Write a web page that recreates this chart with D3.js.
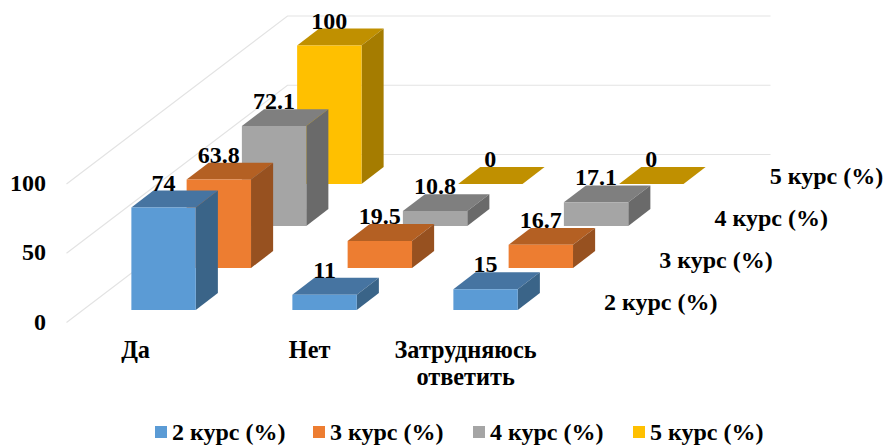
<!DOCTYPE html>
<html><head><meta charset="utf-8">
<script src="https://cdn.jsdelivr.net/npm/d3@7"></script>
<style>
html,body{margin:0;padding:0;background:#fff}
svg{display:block}
text{font-family:"Liberation Serif","Times New Roman",serif;font-weight:bold;fill:#000}
</style></head><body>
<svg id="c" width="884" height="447"></svg>
<script>
const categories = ["Да", "Нет", "Затрудняюсь ответить"];
const seriesNames = ["2 курс (%)", "3 курс (%)", "4 курс (%)", "5 курс (%)"];
const course2 = [74, 11, 15];
const course3 = [63.8, 19.5, 16.7];
const course4 = [72.1, 10.8, 17.1];
const course5 = [100, 0, 0];
const yTicks = [0, 50, 100];
const frontColors = ["#5B9BD5", "#ED7D31", "#A5A5A5", "#FFC000"];
const topColors = ["#4674A1", "#B46023", "#7F7F7F", "#C09000"];
const sideColors = ["#3A6488", "#975120", "#6A6A6A", "#A57C00"];

const seriesValues = [course2, course3, course4, course5];
const svg = d3.select("#c");

// oblique projection: floor origin, depth runs up and to the right
const originX = 66.5, originY = 322.5;
const depthX = d3.scaleLinear().domain([0, 4]).range([0, 221]);
const depthY = d3.scaleLinear().domain([0, 4]).range([0, -168]);
const x = d3.scaleBand().domain(categories).range([0, 483]).paddingInner(0.6).paddingOuter(0.3);
const y = d3.scaleLinear().domain([0, 100]).range([0, 138.5]);
const barDepth = 0.4, barStart = 0.3;

const px = (cx, d) => originX + cx + depthX(d);
const py = (h, d) => originY - y(h) + depthY(d);

// walls
const grid = svg.append("g").attr("fill", "none").attr("stroke", "#e3e3e3").attr("stroke-width", 1.2);
yTicks.forEach(t => {
  grid.append("polyline").attr("points", [
    [px(0, 0), py(t, 0)], [px(0, 4), py(t, 4)], [px(483, 4), py(t, 4)]
  ].join(" "));
});

// y axis labels
svg.append("g").selectAll("text").data(yTicks).join("text")
  .attr("x", 46).attr("y", d => py(d, 0)).attr("dy", "0.3em")
  .attr("text-anchor", "end").attr("font-size", 24).text(d => d);

// bars, back row first
const poly = (pts, fill) => svg.append("polygon").attr("points", pts.join(" ")).attr("fill", fill);
const labels = [];
d3.range(3, -1, -1).forEach(s => {
  const z0 = s + barStart, z1 = s + barStart + barDepth;
  categories.forEach((c, i) => {
    const v = seriesValues[s][i];
    const l = x(c), r = l + x.bandwidth();
    poly([[px(l, z0), py(v, z0)], [px(r, z0), py(v, z0)], [px(r, z1), py(v, z1)], [px(l, z1), py(v, z1)]], topColors[s]);
    if (v > 0) {
      poly([[px(r, z0), py(0, z0)], [px(r, z1), py(0, z1)], [px(r, z1), py(v, z1)], [px(r, z0), py(v, z0)]], sideColors[s]);
      poly([[px(l, z0), py(0, z0)], [px(r, z0), py(0, z0)], [px(r, z0), py(v, z0)], [px(l, z0), py(v, z0)]], frontColors[s]);
    }
    labels.push({ x: px((l + r) / 2, z0), y: py(v, z1), v });
  });
});
svg.append("g").selectAll("text").data(labels).join("text")
  .attr("x", d => d.x).attr("y", d => d.y).attr("text-anchor", "middle")
  .attr("font-size", 24).text(d => d.v);

// category labels
const catShift = d3.scaleOrdinal().domain(categories).range([-28, -15, -20]);
const catG = svg.append("g");
categories.forEach(c => {
  const cx = px(x(c) + x.bandwidth() / 2, barStart) + catShift(c);
  c.split(" ").forEach((w, k) => catG.append("text")
    .attr("x", cx).attr("y", 358 + k * 27).attr("text-anchor", "middle")
    .attr("font-size", 24.3).text(w));
});

// series labels along the depth axis
svg.append("g").selectAll("text").data(seriesNames).join("text")
  .attr("x", (d, i) => 604 + depthX(i))
  .attr("y", (d, i) => 310 + depthY(i))
  .attr("font-size", 24).text(d => d);

// legend
const legendX = d3.scaleOrdinal().domain(seriesNames).range([155, 313, 473, 633]);
const leg = svg.append("g").selectAll("g").data(seriesNames).join("g")
  .attr("transform", d => `translate(${legendX(d)},0)`);
leg.append("rect").attr("y", 426).attr("width", 12).attr("height", 12).attr("fill", (d, i) => frontColors[i]);
leg.append("text").attr("x", 17).attr("y", 440).attr("font-size", 24).text(d => d);
</script>
</body></html>
